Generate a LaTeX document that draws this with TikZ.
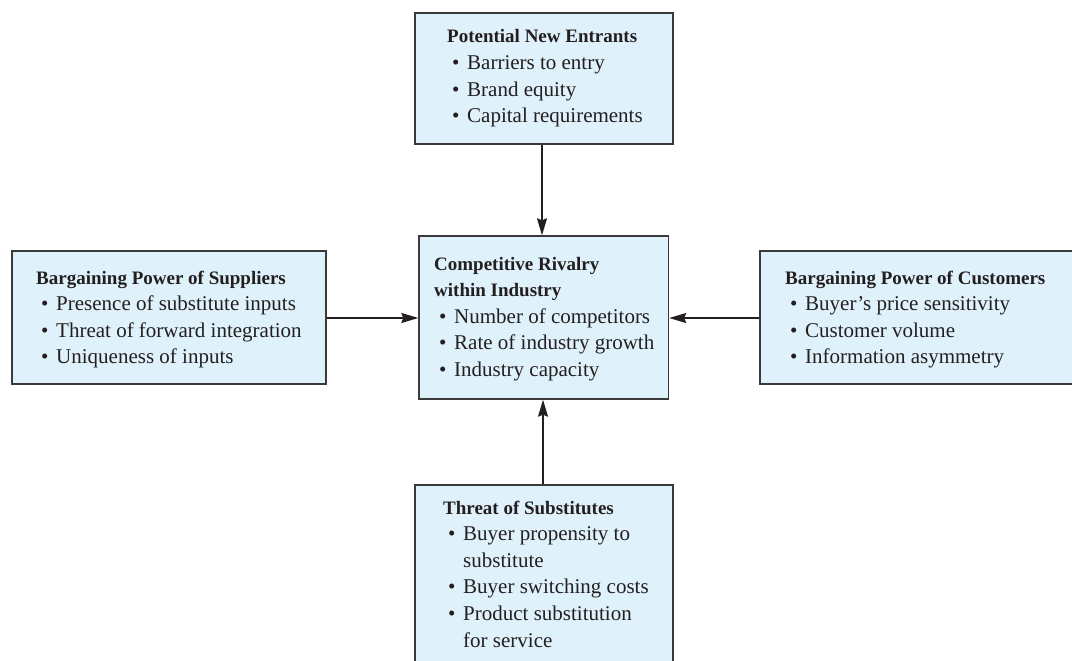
\documentclass[tikz,border=0pt]{standalone}
\usepackage{fontspec}
\setmainfont{Liberation Serif}
\usetikzlibrary{arrows.meta}
\definecolor{boxfill}{HTML}{DFF1FA}
\definecolor{boxline}{HTML}{3A3A3A}
\definecolor{ink}{HTML}{231F20}
% bullet item and continuation line
\newcommand\bul{\hspace*{5pt}\makebox[15pt][l]{\textbullet}}
\newcommand\cont{\hspace*{20pt}}
\newcommand\hd[1]{{\fontsize{19}{26.6}\selectfont\bfseries #1}}
\begin{document}
\begin{tikzpicture}[x=1pt,y=-1pt,
  box/.style={draw=boxline, line width=1.4pt, fill=boxfill, rectangle, inner sep=0pt},
  txt/.style={anchor=base west, inner sep=0pt, text=ink},
  arr/.style={draw=ink, line width=1.5pt, -{Stealth[length=17pt,width=10pt,inset=2pt]}}]
\useasboundingbox (0,0) rectangle (1072,661);
\begin{scope}
\clip (0,0) rectangle (1072,661);
% the five boxes
\node[box, minimum width=258pt, minimum height=131pt] (entrants) at (544,78.5) {};
\node[box, minimum width=249.5pt, minimum height=163pt] (rivalry) at (543.75,317.5) {};
\node[box, minimum width=314pt, minimum height=133pt] (suppliers) at (169,317.5) {};
\node[box, minimum width=314pt, minimum height=133pt] (customers) at (917,317.5) {};
\node[box, minimum width=258pt, minimum height=205pt] (substitutes) at (544,587.5) {};
\end{scope}

% box contents
\node[txt] (entrantsTxt) at (447,43) {\parbox[t]{230pt}{\fontsize{21}{26.6}\selectfont\lineskiplimit=-20pt
\hd{Potential New Entrants}\\
\bul Barriers to entry\\
\bul Brand equity\\
\bul Capital requirements}};

\node[txt] (rivalryTxt) at (434,270) {\parbox[t]{230pt}{\fontsize{21}{26.6}\selectfont\lineskiplimit=-20pt
\hd{Competitive Rivalry}\\
\hd{within Industry}\\
\bul Number of competitors\\
\bul Rate of industry growth\\
\bul Industry capacity}};

\node[txt] (suppliersTxt) at (36,284) {\parbox[t]{285pt}{\fontsize{21}{26.6}\selectfont\lineskiplimit=-20pt
\hd{Bargaining Power of Suppliers}\\
\bul Presence of substitute inputs\\
\bul Threat of forward integration\\
\bul Uniqueness of inputs}};

\node[txt] (customersTxt) at (785,284) {\parbox[t]{285pt}{\fontsize{21}{26.6}\selectfont\lineskiplimit=-20pt
\hd{Bargaining Power of Customers}\\
\bul Buyer’s price sensitivity\\
\bul Customer volume\\
\bul Information asymmetry}};

\node[txt] (substitutesTxt) at (443,514) {\parbox[t]{230pt}{\fontsize{21}{26.6}\selectfont\lineskiplimit=-20pt
\hd{Threat of Substitutes}\\
\bul Buyer propensity to\\
\cont substitute\\
\bul Buyer switching costs\\
\bul Product substitution\\
\cont for service}};

% forces acting on the industry
\draw[arr] (entrants.south -| 542,0) -- (542,0 |- rivalry.north);
\draw[arr] (substitutes.north -| 543,0) -- (543,0 |- rivalry.south);
\draw[arr] (suppliers.east |- 0,318) -- (rivalry.west |- 0,318);
\draw[arr] (customers.west |- 0,318) -- (rivalry.east |- 0,318);
\end{tikzpicture}
\end{document}
